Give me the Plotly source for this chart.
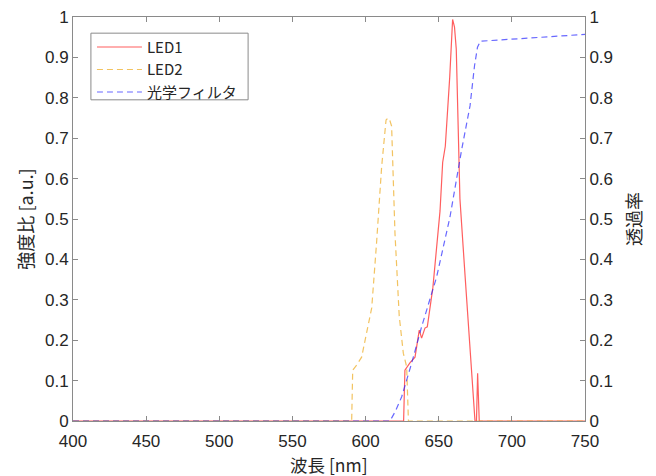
import plotly.graph_objects as go

# wavelength [nm] and values
led1_wl = [400, 626.0, 626.9, 630.3, 633.8, 636.7, 638.3, 640.6, 642.2, 646.0, 650.9, 652.7, 654.5,
           657.5, 659.5, 660.8, 662.0, 664.5, 668.0, 672.5, 674.8, 675.8, 676.6, 677.7, 750]
led1_val = [0, 0, 0.126, 0.144, 0.158, 0.225, 0.205, 0.23, 0.233, 0.33, 0.52, 0.64, 0.68,
            0.85, 0.994, 0.975, 0.92, 0.55, 0.36, 0.126, 0, 0, 0.118, 0, 0]

led2_wl = [400, 590.5, 591.2, 594.0, 597.3, 604.2, 607.5, 611.0, 614.0, 615.3, 616.5, 617.8,
           620.1, 623.0, 625.8, 628.1, 629.3, 750]
led2_val = [0, 0, 0.126, 0.139, 0.158, 0.28, 0.44, 0.63, 0.745, 0.75, 0.745, 0.73,
            0.465, 0.26, 0.168, 0.134, 0, 0]

filter_wl = [400, 616.7, 620.5, 624.7, 631.5, 638.3, 648.6, 657.7, 665.6, 671.4, 674.5, 676.5,
             678.5, 700, 750]
filter_val = [0, 0, 0.025, 0.06, 0.143, 0.233, 0.357, 0.505, 0.67, 0.78, 0.88, 0.925,
              0.94, 0.945, 0.957]

x_ticks = [400, 450, 500, 550, 600, 650, 700, 750]
y_ticks = [0, 0.1, 0.2, 0.3, 0.4, 0.5, 0.6, 0.7, 0.8, 0.9, 1]
y_ticktext = ["0", "0.1", "0.2", "0.3", "0.4", "0.5", "0.6", "0.7", "0.8", "0.9", "1"]

FONT = "Liberation Sans, Noto Sans CJK JP, sans-serif"
JFONT = "Noto Sans CJK JP, sans-serif"

fig = go.Figure()
fig.add_trace(go.Scatter(x=led1_wl, y=led1_val, mode="lines", name="LED1",
                         line=dict(color="rgba(255,40,40,0.75)", width=1.2)))
fig.add_trace(go.Scatter(x=led2_wl, y=led2_val, mode="lines", name="LED2",
                         line=dict(color="rgba(237,170,30,0.7)", width=1.2, dash="6px,4px")))
fig.add_trace(go.Scatter(x=filter_wl, y=filter_val, mode="lines", name="光学フィルタ", yaxis="y2",
                         line=dict(color="rgba(40,40,255,0.7)", width=1.2, dash="6px,4px")))

axis_color = "#8a8a8a"
fig.update_layout(
    width=656, height=476,
    margin=dict(l=65, r=79, t=9, b=63, autoexpand=False),
    paper_bgcolor="white", plot_bgcolor="white",
    font=dict(family=FONT, size=17, color="#262626"),
    xaxis=dict(range=[400, 750], tickvals=x_ticks, ticks="inside", ticklen=5,
               tickcolor=axis_color, showline=True, linecolor=axis_color, linewidth=1,
               mirror="ticks", showgrid=False, zeroline=False, automargin=False,
               ticklabelstandoff=5, ticklabeloverflow="allow"),
    yaxis=dict(range=[0, 1], tickvals=y_ticks, ticktext=y_ticktext, ticks="inside", ticklen=5,
               tickcolor=axis_color, showline=True, linecolor=axis_color, linewidth=1,
               showgrid=False, zeroline=False, automargin=False, ticklabeloverflow="allow",
               title=dict(text="強度比 [a.u.]", font=dict(family=JFONT, size=18), standoff=6)),
    yaxis2=dict(range=[0, 1], tickvals=y_ticks, ticktext=y_ticktext, ticks="inside", ticklen=5,
                tickcolor=axis_color, showline=True, linecolor=axis_color, linewidth=1,
                overlaying="y", side="right", showgrid=False, zeroline=False, automargin=False,
                ticklabeloverflow="allow",
                title=dict(text="透過率", font=dict(family=JFONT, size=18), standoff=16)),
    legend=dict(x=0.037, y=0.966, xanchor="left", yanchor="top",
                borderwidth=0, bgcolor="rgba(0,0,0,0)", itemwidth=45,
                font=dict(family=JFONT, size=15), tracegroupgap=0),
    showlegend=True,
    shapes=[dict(type="rect", xref="paper", yref="paper", x0=0.035, x1=0.342, y0=0.795, y1=0.960,
                 line=dict(color="#8a8a8a", width=1), fillcolor="rgba(0,0,0,0)", layer="below")],
    annotations=[dict(text="波長 [nm]", xref="paper", yref="paper", x=0.5, y=-0.1065,
                      xanchor="center", yanchor="middle", showarrow=False,
                      font=dict(family=JFONT, size=17.5, color="#262626"))],
)

fig.write_html("out.html")
